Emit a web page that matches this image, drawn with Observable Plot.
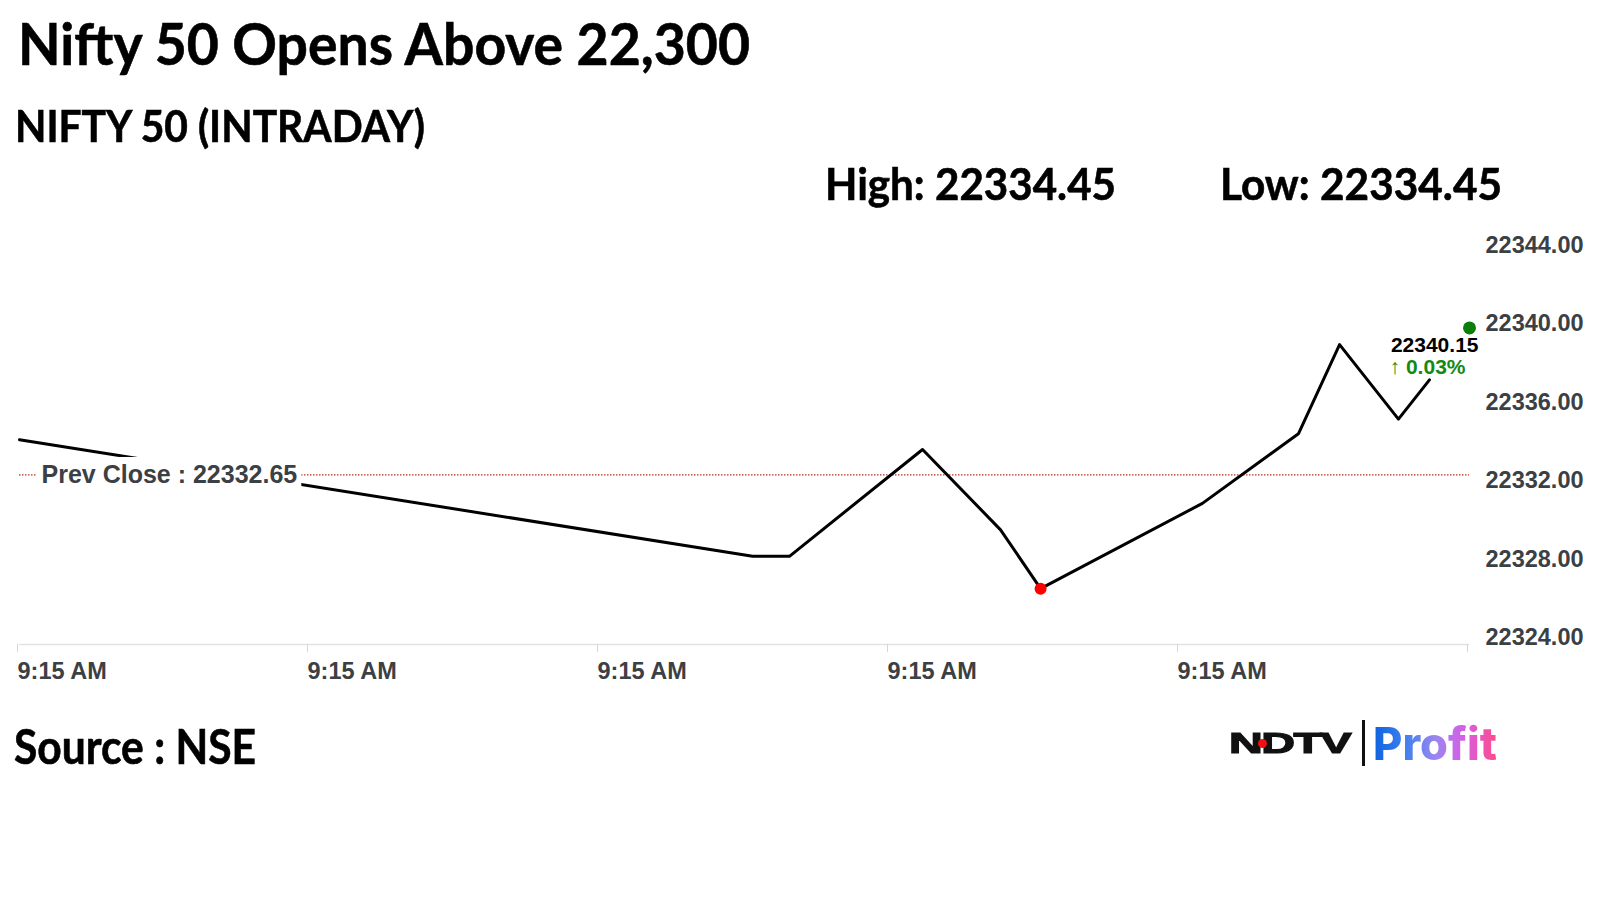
<!DOCTYPE html>
<html>
<head>
<meta charset="utf-8">
<script src="https://cdn.jsdelivr.net/npm/d3@7"></script>
<script src="https://cdn.jsdelivr.net/npm/@observablehq/plot@0.6"></script>
<style>
  html, body { margin: 0; padding: 0; background: #fff; }
  body { width: 1600px; height: 900px; position: relative; overflow: hidden; }
  .hd { position: absolute; white-space: nowrap; line-height: 1; font-family: Lato, "Open Sans", sans-serif;
        font-weight: 700; color: #000; transform-origin: left top; display: inline-block; -webkit-text-stroke: 0.6px #000; }
  #chart { position: absolute; left: 0; top: 210px; }
  #logo-ndtv { position: absolute; left: 1229px; top: 728px; font-family: "Liberation Sans", Arial, sans-serif;
        font-weight: 700; font-size: 30px; line-height: 1; color: #111; transform-origin: left top; white-space: nowrap;
        display:inline-block; letter-spacing: -1px; -webkit-text-stroke: 1.2px #111; }
  #logo-dot { position: absolute; left: 1258px; top: 739px; width: 9px; height: 9px; border-radius: 50%; background: #e11; }
  #logo-bar { position: absolute; left: 1362px; top: 720px; width: 3px; height: 46px; background: #111; }
  #logo-profit { position: absolute; left: 1373px; top: 721px; font-family: Inter, Roboto, sans-serif; font-weight: 800;
        font-size: 45px; line-height: 1; white-space: nowrap; display:inline-block; transform-origin: left top;
        background: linear-gradient(90deg, #0d62e0 0%, #3f80ee 26%, #9a86f0 50%, #d460e6 72%, #ff4a8c 100%);
        -webkit-background-clip: text; background-clip: text; color: transparent; }
</style>
</head>
<body>
<div class="hd" data-w="732" style="left:18px; top:14px; font-size:58px;">Nifty 50 Opens Above 22,300</div>
<div class="hd" data-w="410" style="left:15px; top:103px; font-size:44px;">NIFTY 50 (INTRADAY)</div>
<div class="hd" data-w="291" style="left:825px; top:161px; font-size:44px;">High: 22334.45</div>
<div class="hd" data-w="282" style="left:1220px; top:161px; font-size:44px;">Low: 22334.45</div>
<div class="hd" data-w="242" style="left:14px; top:723px; font-size:47px;">Source : NSE</div>
<div id="logo-ndtv" data-w="121">NDTV</div>
<div id="logo-dot"></div>
<div id="logo-bar"></div>
<div id="logo-profit" data-w="124">Profit</div>
<div id="chart"></div>
<script>
// ---- data ----
const seriesT = [0, 2.528, 2.655, 3.114, 3.383, 3.521, 4.079, 4.410, 4.552, 4.755, 4.862];
const seriesPrice = [22334.45, 22328.50, 22328.50, 22333.95, 22329.85, 22326.85, 22331.20, 22334.75, 22339.30, 22335.50, 22337.50];
const prevClose = 22332.65;
const lastT = 5;
const lastPrice = 22340.15;
const changePct = 0.03;
const xTickPositions = [0, 1, 2, 3, 4, 5];
const xTickLabels = ["9:15 AM", "9:15 AM", "9:15 AM", "9:15 AM", "9:15 AM"];
const yTicks = [22324, 22328, 22332, 22336, 22340, 22344];

const data = seriesT.map((t, i) => ({t, price: seriesPrice[i]}));

const axisColor = "#3b4045";
const chart = Plot.plot({
  width: 1600,
  height: 490,
  marginTop: 42,
  marginBottom: 56,
  marginLeft: 19,
  marginRight: 131,
  style: {background: "transparent", fontFamily: "'Liberation Sans', Arial, sans-serif", fontSize: "23px", fontWeight: "bold", color: axisColor, overflow: "visible"},
  x: {domain: [xTickPositions[0], xTickPositions[xTickPositions.length - 1]]},
  y: {domain: [yTicks[0], yTicks[yTicks.length - 1]]},
  marks: [
    Plot.ruleY([yTicks[0]], {stroke: "#e2e2e2", strokeWidth: 1.5}),
    Plot.axisX({ticks: xTickPositions, tickFormat: i => xTickLabels[i] ?? "", tickSize: 8, tickPadding: 10,
      textAnchor: "start", dx: -2, stroke: "#d6d6d6", fill: axisColor, fontSize: 23.5, fontWeight: "bold", label: null}),
    Plot.axisY({anchor: "right", ticks: yTicks, tickFormat: d => d.toFixed(2), tickSize: 0, tickPadding: 16,
      dy: -7, fill: axisColor, fontSize: 23.5, fontWeight: "bold", label: null}),
    Plot.ruleY([prevClose], {stroke: "#b8322a", strokeDasharray: "1.5,1.5", strokeWidth: 1.2}),
    Plot.line(data, {x: "t", y: "price", stroke: "#000", strokeWidth: 3}),
    Plot.text([prevClose], {y: d => d, frameAnchor: "left", dx: 22, textAnchor: "start",
      text: d => `Prev Close : ${d.toFixed(2)}`, fontSize: 25, fontWeight: "bold", fill: axisColor}),
    Plot.dot(data, Plot.selectMinY({x: "t", y: "price", r: 6, fill: "#f00", stroke: "none"})),
    Plot.dot([lastPrice], {x: () => lastT, y: d => d, r: 6.5, fill: "#0a7d0a", stroke: "none"}),
    Plot.text([lastPrice], {x: () => lastT, y: d => d, text: d => d.toFixed(2), textAnchor: "end", dx: 9, dy: 17,
      fontSize: 21, fontWeight: "bold", fill: "#000"}),
    Plot.text([changePct], {x: () => lastT, y: () => lastPrice, text: d => `↑ ${d.toFixed(2)}%`, textAnchor: "end", dx: -4, dy: 39,
      fontSize: 21, fontWeight: "bold", fill: "#138a13"})
  ]
});
document.getElementById("chart").appendChild(chart);

// white box behind the Prev Close label
function boxLabel() {
  const t = Array.from(chart.querySelectorAll("text")).find(e => e.textContent.startsWith("Prev Close"));
  if (!t) return;
  const parent = t.parentNode;
  const old = parent.querySelector("rect.bg");
  if (old) old.remove();
  const bb = t.getBBox();
  const r = document.createElementNS("http://www.w3.org/2000/svg", "rect");
  r.setAttribute("class", "bg");
  r.setAttribute("x", bb.x - 5);
  r.setAttribute("y", bb.y - 3);
  r.setAttribute("width", bb.width + 9);
  r.setAttribute("height", bb.height + 6);
  r.setAttribute("fill", "#fff");
  if (t.getAttribute("transform")) r.setAttribute("transform", t.getAttribute("transform"));
  parent.insertBefore(r, t);
}

function fitAll() {
  document.querySelectorAll("[data-w]").forEach(el => {
    el.style.transform = "none";
    const w = el.getBoundingClientRect().width;
    if (w > 0) el.style.transform = `scaleX(${(+el.dataset.w) / w})`;
  });
  boxLabel();
}
fitAll();
if (document.fonts && document.fonts.ready) document.fonts.ready.then(fitAll);
</script>
</body>
</html>
